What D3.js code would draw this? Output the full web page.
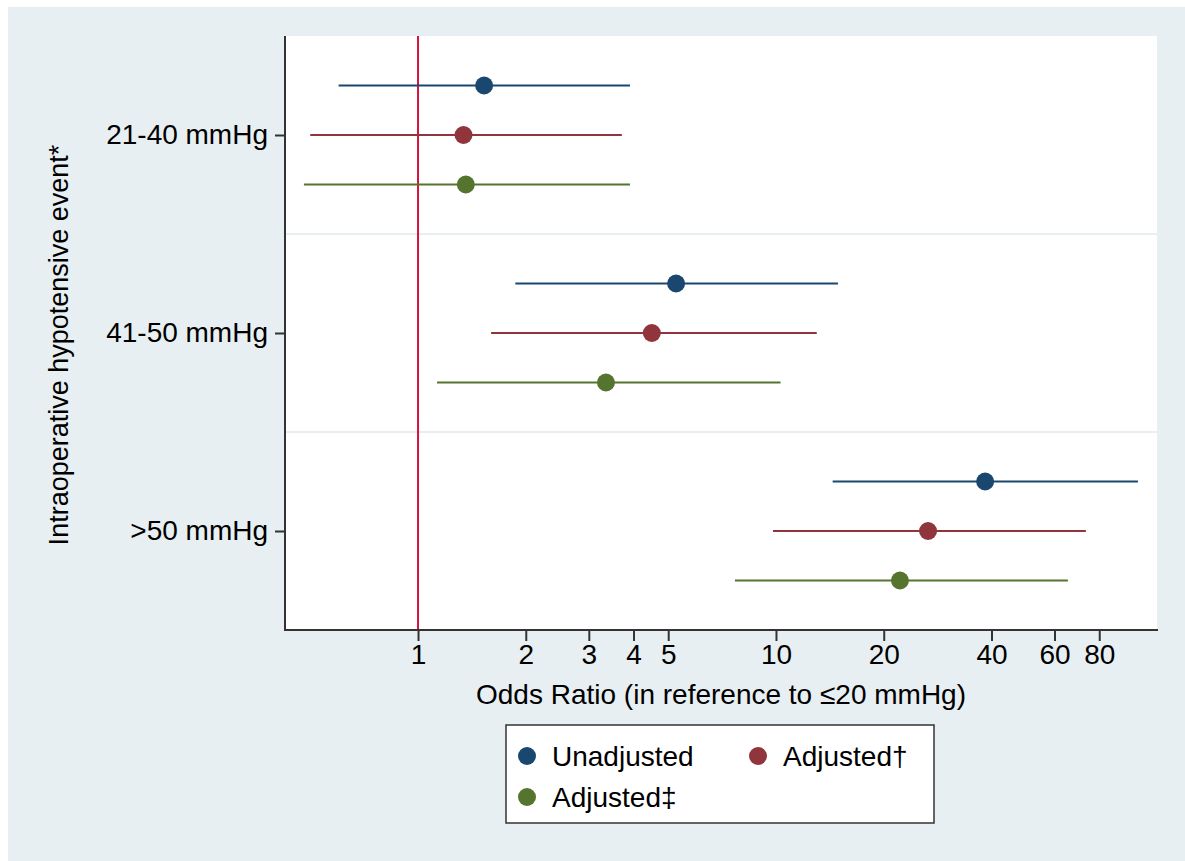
<!DOCTYPE html>
<html>
<head>
<meta charset="utf-8">
<script src="https://cdn.jsdelivr.net/npm/d3@7"></script>
<style>
  html, body { margin: 0; padding: 0; background: #ffffff; }
  svg { display: block; }
  text { font-family: "Liberation Sans", Arial, Helvetica, sans-serif; fill: #000; }
</style>
</head>
<body>
<svg id="chart" width="1185" height="861"></svg>
<script>
// ---- data ----
const categories = ["21-40 mmHg", "41-50 mmHg", ">50 mmHg"];
const seriesNames = ["Unadjusted", "Adjusted\u2020", "Adjusted\u2021"];
const seriesColors = ["#1a476f", "#90353b", "#55752f"];
// odds ratios per category, by series
const unadjustedOR = [1.53, 5.26, 38.4];
const unadjustedLo = [0.60, 1.87, 14.4];
const unadjustedHi = [3.91, 14.9, 102.6];
const adjusted1OR = [1.34, 4.50, 26.6];
const adjusted1Lo = [0.50, 1.60, 9.81];
const adjusted1Hi = [3.71, 13.0, 73.4];
const adjusted2OR = [1.36, 3.35, 22.2];
const adjusted2Lo = [0.48, 1.13, 7.68];
const adjusted2Hi = [3.91, 10.3, 65.4];
const xTicks = [1, 2, 3, 4, 5, 10, 20, 40, 60, 80];
const xDomain = [0.425, 116];
const referenceOR = 1;

const seriesData = [
  { or: unadjustedOR, lo: unadjustedLo, hi: unadjustedHi },
  { or: adjusted1OR, lo: adjusted1Lo, hi: adjusted1Hi },
  { or: adjusted2OR, lo: adjusted2Lo, hi: adjusted2Hi }
];
const rows = [];
categories.forEach((c, ci) => {
  seriesData.forEach((s, si) => {
    rows.push({ cat: ci, series: si, or: s.or[ci], lo: s.lo[ci], hi: s.hi[ci] });
  });
});

// ---- layout ----
const FS = 28;
const svg = d3.select("#chart");
const plot = { left: 285, right: 1157, top: 36, bottom: 630 };

svg.append("rect").attr("x", 8).attr("y", 7).attr("width", 1177).attr("height", 854).attr("fill", "#e8eff2");
svg.append("rect").attr("x", plot.left).attr("y", plot.top)
  .attr("width", plot.right - plot.left).attr("height", plot.bottom - plot.top).attr("fill", "#ffffff");

const x = d3.scaleLog().domain(xDomain).range([plot.left, plot.right]);
const y = d3.scaleLinear().domain([0, categories.length]).range([plot.top, plot.bottom]);
const offset = [-0.25, 0, 0.25];

// group separators
svg.append("g").selectAll("line").data(d3.range(1, categories.length)).join("line")
  .attr("x1", plot.left).attr("x2", plot.right)
  .attr("y1", d => y(d)).attr("y2", d => y(d))
  .attr("stroke", "#e8eff2").attr("stroke-width", 2);

// reference line
svg.append("line")
  .attr("x1", x(referenceOR)).attr("x2", x(referenceOR))
  .attr("y1", plot.top).attr("y2", plot.bottom)
  .attr("stroke", "#d4143f").attr("stroke-width", 2);

// CI lines
svg.append("g").selectAll("line").data(rows).join("line")
  .attr("x1", d => x(d.lo)).attr("x2", d => x(d.hi))
  .attr("y1", d => y(d.cat + 0.5 + offset[d.series]))
  .attr("y2", d => y(d.cat + 0.5 + offset[d.series]))
  .attr("stroke", d => seriesColors[d.series]).attr("stroke-width", 2);

// points
svg.append("g").selectAll("circle").data(rows).join("circle")
  .attr("cx", d => x(d.or))
  .attr("cy", d => y(d.cat + 0.5 + offset[d.series]))
  .attr("r", 9)
  .attr("fill", d => seriesColors[d.series]);

// x axis
const xAxis = d3.axisBottom(x).tickValues(xTicks).tickFormat(d3.format("d")).tickSize(11).tickPadding(3);
const gx = svg.append("g").attr("transform", `translate(0,${plot.bottom})`).call(xAxis);
gx.select(".domain").attr("d", `M${plot.left},0H${plot.right + 1}`).attr("stroke", "#333").attr("stroke-width", 2);
gx.selectAll(".tick line").attr("stroke", "#333").attr("stroke-width", 2);
gx.selectAll(".tick text").attr("font-size", FS).attr("font-family", "Liberation Sans, Arial, sans-serif").attr("fill", "#000");

// y axis
const yAxis = d3.axisLeft(y).tickValues(categories.map((c, i) => i + 0.5))
  .tickFormat((d, i) => categories[i]).tickSize(10).tickPadding(7);
const gy = svg.append("g").attr("transform", `translate(${plot.left},0)`).call(yAxis);
gy.select(".domain").attr("d", `M0,${plot.top}V${plot.bottom + 1}`).attr("stroke", "#333").attr("stroke-width", 2);
gy.selectAll(".tick line").attr("stroke", "#333").attr("stroke-width", 2);
gy.selectAll(".tick text").attr("font-size", FS).attr("font-family", "Liberation Sans, Arial, sans-serif").attr("fill", "#000");

// axis titles
svg.append("text").attr("x", (plot.left + plot.right) / 2).attr("y", 704)
  .attr("text-anchor", "middle").attr("font-size", FS)
  .text("Odds Ratio (in reference to \u226420 mmHg)");
svg.append("text").attr("transform", "translate(68,345) rotate(-90)")
  .attr("text-anchor", "middle").attr("font-size", 27)
  .text("Intraoperative hypotensive event*");

// legend
const lg = svg.append("g");
lg.append("rect").attr("x", 506).attr("y", 725).attr("width", 428).attr("height", 98)
  .attr("fill", "#ffffff").attr("stroke", "#333").attr("stroke-width", 1.5);
const legendPos = [[527, 756], [758, 756], [527, 797]];
seriesNames.forEach((n, i) => {
  lg.append("circle").attr("cx", legendPos[i][0]).attr("cy", legendPos[i][1]).attr("r", 9).attr("fill", seriesColors[i]);
  lg.append("text").attr("x", legendPos[i][0] + 25).attr("y", legendPos[i][1] + 10)
    .attr("font-size", FS).text(n);
});
</script>
</body>
</html>
